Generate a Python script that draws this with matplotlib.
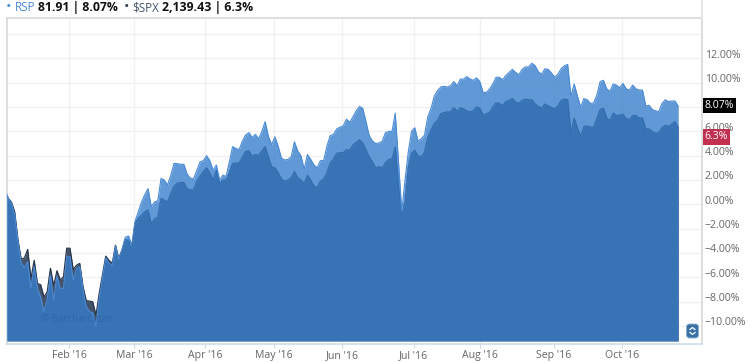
import numpy as np
import matplotlib
matplotlib.use('Agg')
import matplotlib.pyplot as plt
from matplotlib.lines import Line2D
from matplotlib.patches import FancyBboxPatch
from matplotlib.transforms import Affine2D

# values in percent, one per trading session, the first one is clipped by the left edge
rsp = [1.3, 0.5, 0.1, -0.8, -3.1, -4.8, -5.2, -4.7, -6.9, -5.1, -6.9, -7.6, -8.8, -7.8, -5.8, -7.9, -5.9, -6.9, -6.9, -4.3,
       -4.3, -6.2, -5.3, -5.1, -7.0, -8.4, -8.8, -8.9, -10.0, -7.7, -6.0, -4.4, -4.8, -5.0, -3.4, -4.5, -3.7, -2.7, -2.6, -3.3,
       -1.4, -0.6, 0.2, 0.8, 1.3, -0.2, 0.2, 0.3, 2.14, 2.0, 1.6, 2.4, 3.37, 3.35, 3.3, 3.3, 2.5, 2.15, 2.1, 2.8,
       3.5, 3.6, 4.0, 3.6, 2.8, 3.24, 2.0, 2.4, 2.3, 3.5, 4.75, 4.6, 4.5, 5.2, 5.7, 5.9, 5.5, 5.75, 5.4, 6.0,
       6.8, 5.6, 4.9, 5.55, 4.8, 3.8, 3.65, 3.7, 3.9, 5.15, 4.4, 4.0, 2.9, 4.1, 3.7, 3.25, 3.0, 3.6, 3.6, 4.8,
       5.65, 5.75, 6.2, 6.35, 6.45, 7.0, 6.75, 7.2, 7.7, 8.05, 7.9, 6.8, 5.65, 5.2, 5.0, 5.05, 5.2, 5.9, 6.0, 6.0,
       7.5, 3.5, -0.6, 2.0, 4.3, 6.0, 6.3, 5.2, 5.4, 5.7, 7.2, 7.9, 8.9, 9.35, 9.65, 9.7, 9.65, 9.75, 10.1, 9.75,
       10.3, 10.3, 10.5, 10.3, 10.2, 10.4, 10.1, 9.2, 9.2, 9.5, 9.9, 10.45, 10.45, 10.25, 10.6, 10.85, 11.1, 10.85, 10.65, 11.1,
       11.3, 11.3, 11.6, 11.4, 10.9, 10.7, 11.15, 11.1, 10.8, 10.45, 10.7, 11.15, 11.4, 11.5, 8.9, 9.9, 8.9, 8.0, 8.7, 8.6,
       8.3, 8.35, 9.0, 10.1, 10.2, 9.5, 9.3, 9.9, 9.8, 9.6, 9.95, 9.5, 9.4, 9.8, 9.5, 9.4, 9.4, 8.1, 8.15, 7.8,
       7.7, 7.6, 8.3, 8.6, 8.45, 8.5, 8.5, 8.07]
spx = [1.3, 0.5, 0.2, -0.6, -2.9, -4.5, -4.4, -3.7, -6.1, -4.6, -6.5, -6.6, -7.6, -7.2, -5.25, -6.7, -5.45, -6.2, -5.95, -3.6,
       -3.6, -5.35, -5.0, -4.85, -6.75, -7.9, -7.95, -8.0, -9.1, -7.3, -5.8, -4.25, -4.6, -4.85, -3.35, -4.45, -3.75, -2.9, -2.95, -3.8,
       -1.55, -1.1, -0.9, -0.6, -0.45, -1.6, -1.2, -1.05, 0.5, 0.35, 0.2, 0.9, 1.5, 1.75, 1.8, 1.8, 1.3, 1.2, 1.2, 1.9,
       2.3, 2.7, 3.0, 2.6, 2.0, 2.8, 1.7, 2.0, 2.0, 2.6, 3.35, 3.4, 3.4, 3.9, 4.35, 4.4, 3.95, 4.1, 4.05, 4.4,
       4.75, 3.9, 3.1, 3.0, 2.6, 2.1, 1.9, 2.0, 2.2, 2.7, 2.2, 2.0, 1.7, 2.4, 2.0, 1.5, 1.4, 1.9, 2.1, 2.6,
       3.4, 3.75, 4.2, 4.25, 4.25, 4.5, 4.45, 4.9, 5.1, 5.3, 5.05, 4.5, 3.9, 3.5, 3.0, 3.1, 3.0, 3.45, 3.7, 3.75,
       4.7, 1.5, -0.9, 0.2, 3.0, 4.2, 4.45, 4.0, 3.9, 4.3, 5.5, 6.1, 6.65, 6.9, 7.45, 7.55, 7.6, 7.6, 7.95, 7.65,
       7.95, 7.85, 7.7, 7.6, 7.7, 8.0, 7.9, 7.35, 7.45, 7.55, 8.0, 8.35, 8.3, 8.1, 8.45, 8.55, 8.7, 8.4, 8.3, 8.55,
       8.65, 8.6, 8.6, 8.25, 8.05, 7.9, 8.25, 8.1, 7.95, 7.85, 8.1, 8.55, 8.65, 8.6, 5.9, 7.1, 6.3, 5.6, 6.4, 6.45,
       6.35, 6.35, 7.1, 7.8, 7.9, 7.1, 6.9, 7.5, 7.3, 7.35, 7.4, 7.05, 6.95, 7.3, 7.3, 7.1, 7.1, 6.2, 6.2, 6.0,
       5.85, 5.9, 6.3, 6.5, 6.4, 6.6, 6.8, 6.3]
month_sessions = [18.8, 38.7, 60.5, 81.7, 102.6, 124.7, 145, 167.8, 188.6]
month_labels = ["Feb '16", "Mar '16", "Apr '16", "May '16", "Jun '16", "Jul '16", "Aug '16", "Sep '16", "Oct '16"]
pct_ticks = [-10, -8, -6, -4, -2, 0, 2, 4, 6, 10, 12]
pct_labels = ['\u221210.00%', '\u22128.00%', '\u22126.00%', '\u22124.00%', '\u22122.00%', '0.00%',
              '2.00%', '4.00%', '6.00%', '10.00%', '12.00%']
grid_pcts = [-10, -8, -6, -4, -2, 0, 2, 4, 6, 8, 10, 12, 14]

W, H = 750, 363
plt.rcParams['font.family'] = ['Open Sans', 'DejaVu Sans']
fig = plt.figure(figsize=(W / 100, H / 100), dpi=100)


def fx(px):
    return px / W


def fy(py):
    return 1 - py / H


# figure pixels, y going down like in the reference
ax = fig.add_axes([fx(6.5), fy(344), fx(702 - 6.5), fy(17.5) - fy(344)])
ax.set_xlim(-0.51, 213.3)
ax.set_ylim(-11.47, 15.36)

sessions = np.arange(len(rsp)) - 1
floor = -11.22
ax.fill_between(sessions, spx, floor, color='#44536a', lw=0, zorder=2)
ax.plot(sessions, spx, color='#27364d', lw=0.9, zorder=2.1)
ax.fill_between(sessions, rsp, floor, color='#357dcb', alpha=0.78, lw=0, zorder=3)
ax.plot(sessions, rsp, color='#4a8ad6', lw=0.8, zorder=3.1)

ax.set_yticks(grid_pcts)
ax.set_yticklabels([])
ax.set_xticks(month_sessions)
ax.set_xticklabels(month_labels, fontsize=7.6, color='#666666')
ax.grid(True, color='#f1f1f3', lw=1)
ax.set_axisbelow(True)
ax.tick_params(axis='y', length=0)
ax.tick_params(axis='x', length=3, width=0.8, color='#c9d9ea', pad=1.5)

for name in ['top', 'left', 'right']:
    ax.spines[name].set_color('#dcdcdc')
    ax.spines[name].set_linewidth(1.3)
ax.spines['bottom'].set_color('#c9d9ea')
ax.spines['bottom'].set_linewidth(1.1)

# right border runs on to the top of the image
fig.add_artist(Line2D([fx(702), fx(702)], [fy(0), fy(17.5)], color='#e4e4e4', lw=1.3))

# value labels sit a little above their grid line
for val, lab in zip(pct_ticks, pct_labels):
    ax.annotate(lab, (1, val), xycoords=ax.get_yaxis_transform(), xytext=(2, 2.4), textcoords='offset points',
                fontsize=7.6, color='#666666', va='center', ha='left', annotation_clip=False, zorder=5)

# last value badges
ax.annotate('8.07%', (1, rsp[-1]), xycoords=ax.get_yaxis_transform(), xytext=(2, 0.6), textcoords='offset points',
            fontsize=7.6, color='white', va='center', ha='left', annotation_clip=False, zorder=6,
            bbox=dict(fc='black', ec='none', pad=1.2))
ax.annotate('6.3%', (1, spx[-1]), xycoords=ax.get_yaxis_transform(), xytext=(2, -6.6), textcoords='offset points',
            fontsize=7.6, color='white', va='center', ha='left', annotation_clip=False, zorder=6,
            bbox=dict(fc='#c2304f', ec='none', pad=1.6))

fig.text(fx(41), fy(320), '\u00a9 Barchart.com', fontsize=7, color='#3067ab', va='center', ha='left')

# header
fig.text(fx(6), fy(7.5), '\u2022', fontsize=10.5, color='#4a8ad6', va='center', ha='left')
fig.text(fx(15), fy(7.5), 'RSP', fontsize=8.4, color='#4a8ad6', va='center', ha='left')
fig.text(fx(38), fy(7.5), '81.91 | 8.07%', fontsize=8.8, color='#111111', weight='bold', va='center', ha='left')
fig.text(fx(123.5), fy(7.5), '\u2022', fontsize=10.5, color='#2f3b4e', va='center', ha='left')
fig.text(fx(132.5), fy(7.5), '$SPX', fontsize=8.4, color='#44536a', va='center', ha='left')
fig.text(fx(162), fy(7.5), '2,139.43 | 6.3%', fontsize=8.8, color='#111111', weight='bold', va='center', ha='left')

# scale toggle button
btn = FancyBboxPatch((686.5, 324), 12, 14, boxstyle='round,pad=0,rounding_size=3', fc='#3a72a8', ec='#8fb2d4', lw=0.6,
                     zorder=7)
btn.set_transform(Affine2D().scale(1 / W, -1 / H).translate(0, 1) + fig.transFigure)
fig.add_artist(btn)
for tip, side in [(327.5, 329.5), (334.5, 332.5)]:
    fig.add_artist(Line2D([fx(690), fx(692.5), fx(695)], [fy(side), fy(tip), fy(side)], color='white', lw=0.9, zorder=8))

fig.savefig('out.png', dpi=100)
